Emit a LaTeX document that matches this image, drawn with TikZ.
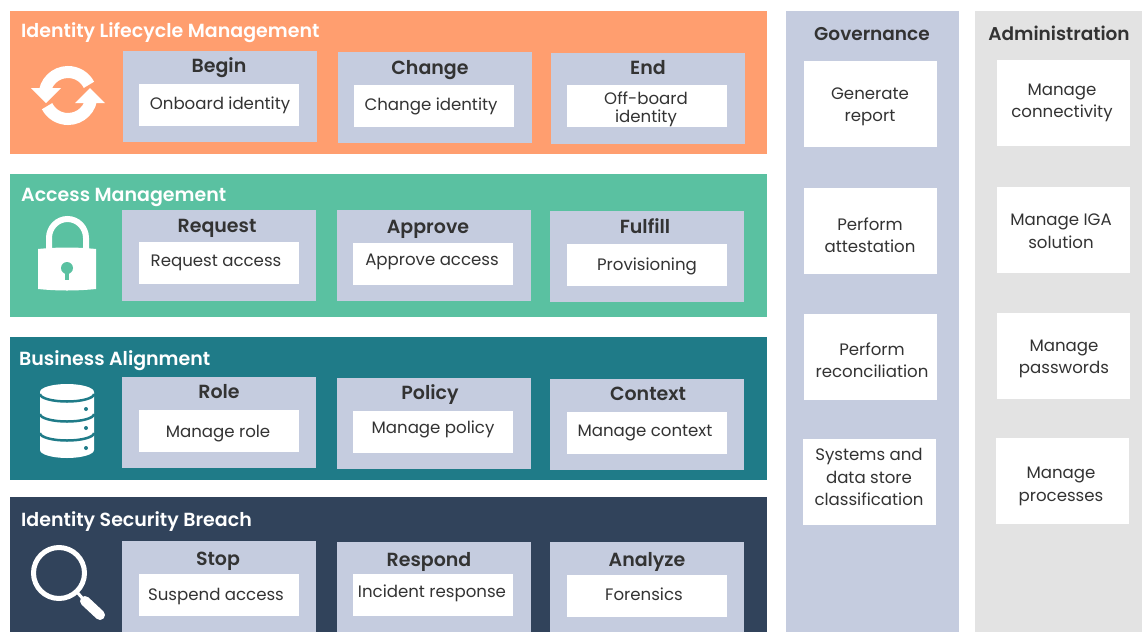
\documentclass[tikz,border=0pt]{standalone}
\usepackage{fontspec}
\setmainfont{Poppins}[BoldFont={Poppins SemiBold}]
\definecolor{cOrange}{HTML}{FF9E6F}
\definecolor{cGreen}{HTML}{5AC1A1}
\definecolor{cTeal}{HTML}{1F7B88}
\definecolor{cNavy}{HTML}{31435B}
\definecolor{cLav}{HTML}{C5CCDF}
\definecolor{cGrey}{HTML}{E3E3E3}
\definecolor{cText}{HTML}{333333}
\newcommand\bx[6]{\node[#6,minimum width={(#4-#2)*1pt},minimum height={(#5-#3)*1pt}] (#1) at ({(#2+#4)/2},{(#3+#5)/2}) {};}
\tikzset{
  boxbase/.style={inner sep=0pt,outer sep=0pt,draw=none,rectangle},
  band/.style={boxbase,fill=#1},
  sub/.style={boxbase,fill=cLav},
  card/.style={boxbase,fill=white},
  bandtitle/.style={anchor=mid west,inner sep=0pt,yshift=-4.8pt,text=white,font=\fontsize{19}{22}\selectfont\bfseries},
  subtitle/.style={anchor=mid,inner sep=0pt,yshift=-4.8pt,text=cText,font=\fontsize{19}{22}\selectfont\bfseries},
  sidetitle/.style={subtitle,font=\fontsize{18.5}{22}\selectfont\bfseries},
  body/.style={anchor=mid,inner sep=0pt,yshift=-3.8pt,text=cText,font=\fontsize{16.6}{22}\selectfont},
  multi/.style={anchor=center,inner sep=0pt,text=cText,align=center,font=\fontsize{16.6}{22.5}\selectfont},
  icon/.style={fill=white,draw=none},
  ring/.style={draw=white,line width=12pt}
}
\begin{document}
\begin{tikzpicture}[x=1pt,y=-1pt]
\useasboundingbox (0,0) rectangle (1142,632);
\bx{b1}{10}{11}{767}{154}{band=cOrange}
\bx{b2}{10}{174}{767}{317}{band=cGreen}
\bx{b3}{10}{337}{767}{480}{band=cTeal}
\bx{b4}{10}{497}{767}{632}{band=cNavy}
\bx{gov}{786}{11}{959}{632}{band=cLav}
\bx{adm}{975}{11}{1142}{632}{band=cGrey}
% sub boxes
\bx{s11}{123}{51}{317}{142}{sub}\bx{c11}{139}{84}{299}{126}{card}
\bx{s12}{338}{52}{532}{143}{sub}\bx{c12}{354}{85}{514}{127}{card}
\bx{s13}{551}{53}{745}{144}{sub}\bx{c13}{567}{85}{727}{127}{card}
\bx{s21}{122}{210}{316}{301}{sub}\bx{c21}{139}{242}{299}{284}{card}
\bx{s22}{337}{210}{531}{301}{sub}\bx{c22}{353}{243}{513}{285}{card}
\bx{s23}{550}{211}{744}{302}{sub}\bx{c23}{567}{244}{727}{286}{card}
\bx{s31}{122}{377}{316}{468}{sub}\bx{c31}{139}{410}{299}{452}{card}
\bx{s32}{337}{378}{531}{469}{sub}\bx{c32}{353}{411}{513}{453}{card}
\bx{s33}{550}{379}{744}{470}{sub}\bx{c33}{567}{412}{727}{454}{card}
\bx{s41}{122}{541}{316}{632}{sub}\bx{c41}{139}{574}{299}{616}{card}
\bx{s42}{337}{542}{531}{632}{sub}\bx{c42}{353}{574}{513}{616}{card}
\bx{s43}{550}{542}{744}{632}{sub}\bx{c43}{567}{575}{727}{617}{card}
% side cards
\bx{g1}{804}{61}{937}{147}{card}
\bx{g2}{804}{188}{937}{274}{card}
\bx{g3}{804}{314}{937}{400}{card}
\bx{g4}{803}{439}{936}{525}{card}
\bx{a1}{997}{60}{1130}{146}{card}
\bx{a2}{997}{187}{1130}{273}{card}
\bx{a3}{997}{313}{1130}{399}{card}
\bx{a4}{996}{438}{1129}{524}{card}
% band titles
\node[bandtitle] (tb1) at (21,30) {Identity Lifecycle Management};
\node[bandtitle] (tb2) at (21,194) {Access Management};
\node[bandtitle] (tb3) at (19,358) {Business Alignment};
\node[bandtitle] (tb4) at (21,519) {Identity Security Breach};
\node[sidetitle] (tgov) at (872,33) {Governance};
\node[sidetitle] (tadm) at (1059,33) {Administration};
% sub titles
\node[subtitle] (t11) at (219,65) {Begin};
\node[subtitle] (t12) at (430,67) {Change};
\node[subtitle] (t13) at (648,67) {End};
\node[subtitle] (t21) at (217,225) {Request};
\node[subtitle] (t22) at (428,226) {Approve};
\node[subtitle] (t23) at (645,226) {Fulfill};
\node[subtitle] (t31) at (219,391) {Role};
\node[subtitle] (t32) at (430,392) {Policy};
\node[subtitle] (t33) at (648,393) {Context};
\node[subtitle] (t41) at (218,558) {Stop};
\node[subtitle] (t42) at (429,559) {Respond};
\node[subtitle] (t43) at (647,559) {Analyze};
% card text
\node[body] (x11) at (220,103) {Onboard identity};
\node[body] (x12) at (431,104) {Change identity};
\node[multi,font=\fontsize{16.6}{18}\selectfont] (x13) at (646,109) {Off-board\\identity};
\node[body] (x21) at (216,260) {Request access};
\node[body] (x22) at (432,259) {Approve access};
\node[body] (x23) at (647,264) {Provisioning};
\node[body] (x31) at (218,431) {Manage role};
\node[body] (x32) at (433,427) {Manage policy};
\node[body] (x33) at (645,430) {Manage context};
\node[body] (x41) at (216,594) {Suspend access};
\node[body] (x42) at (432,591) {Incident response};
\node[body] (x43) at (644,594) {Forensics};
\node[multi] (y1) at (870,107) {Generate\\report};
\node[multi] (y2) at (870,235) {Perform\\attestation};
\node[multi] (y3) at (872,360) {Perform\\reconciliation};
\node[multi] (y4) at (869,477) {Systems and\\data store\\classification};
\node[multi] (z1) at (1062,103) {Manage\\connectivity};
\node[multi] (z2) at (1061,231) {Manage IGA\\solution};
\node[multi] (z3) at (1064,359) {Manage\\passwords};
\node[multi] (z4) at (1061,486.5) {Manage\\processes};
% sync icon
\draw[ring] (44.5,95.5) arc[start angle=180,end angle=333,radius=23.5];
\fill[icon] (31,88) -- (46,103) -- (61,88) -- cycle;
\draw[ring] (91.5,95.5) arc[start angle=0,end angle=153,radius=23.5];
\fill[icon] (75,103) -- (90,88) -- (105,103) -- cycle;
% lock icon
\draw[white,line width=6pt] (49,250) -- (49,238) arc[start angle=180,end angle=360,x radius=18.5,y radius=19] -- (86,250);
\fill[icon] (38,249) .. controls (58,247) and (76,247) .. (96,249) -- (96,289) .. controls (76,291) and (58,291) .. (38,289) -- cycle;
\fill[cGreen] (67,268) circle[radius=6];
\fill[cGreen] (65,270) rectangle (69,280);
% database icon
\fill[icon] (40,392) -- (40,450) arc[start angle=180,end angle=0,x radius=27,y radius=8] -- (94,392) arc[start angle=0,end angle=-180,x radius=27,y radius=8] -- cycle;
\draw[cTeal,line width=2.5pt] (40,394) arc[start angle=180,end angle=0,x radius=27,y radius=7.5];
\draw[cTeal,line width=2.5pt] (40,414) arc[start angle=180,end angle=0,x radius=27,y radius=7.5];
\draw[cTeal,line width=2.5pt] (40,433) arc[start angle=180,end angle=0,x radius=27,y radius=7.5];
\fill[cTeal] (86,409) circle[radius=2] (86,428) circle[radius=2] (86,448) circle[radius=2];
% magnifier icon
\draw[white,line width=5pt] (59,573) circle[radius=25.5];
\draw[white,line width=3pt] (77,592) -- (84,600);
\draw[white,line width=10pt,line cap=round] (85,601) -- (100,615);
\end{tikzpicture}
\end{document}
